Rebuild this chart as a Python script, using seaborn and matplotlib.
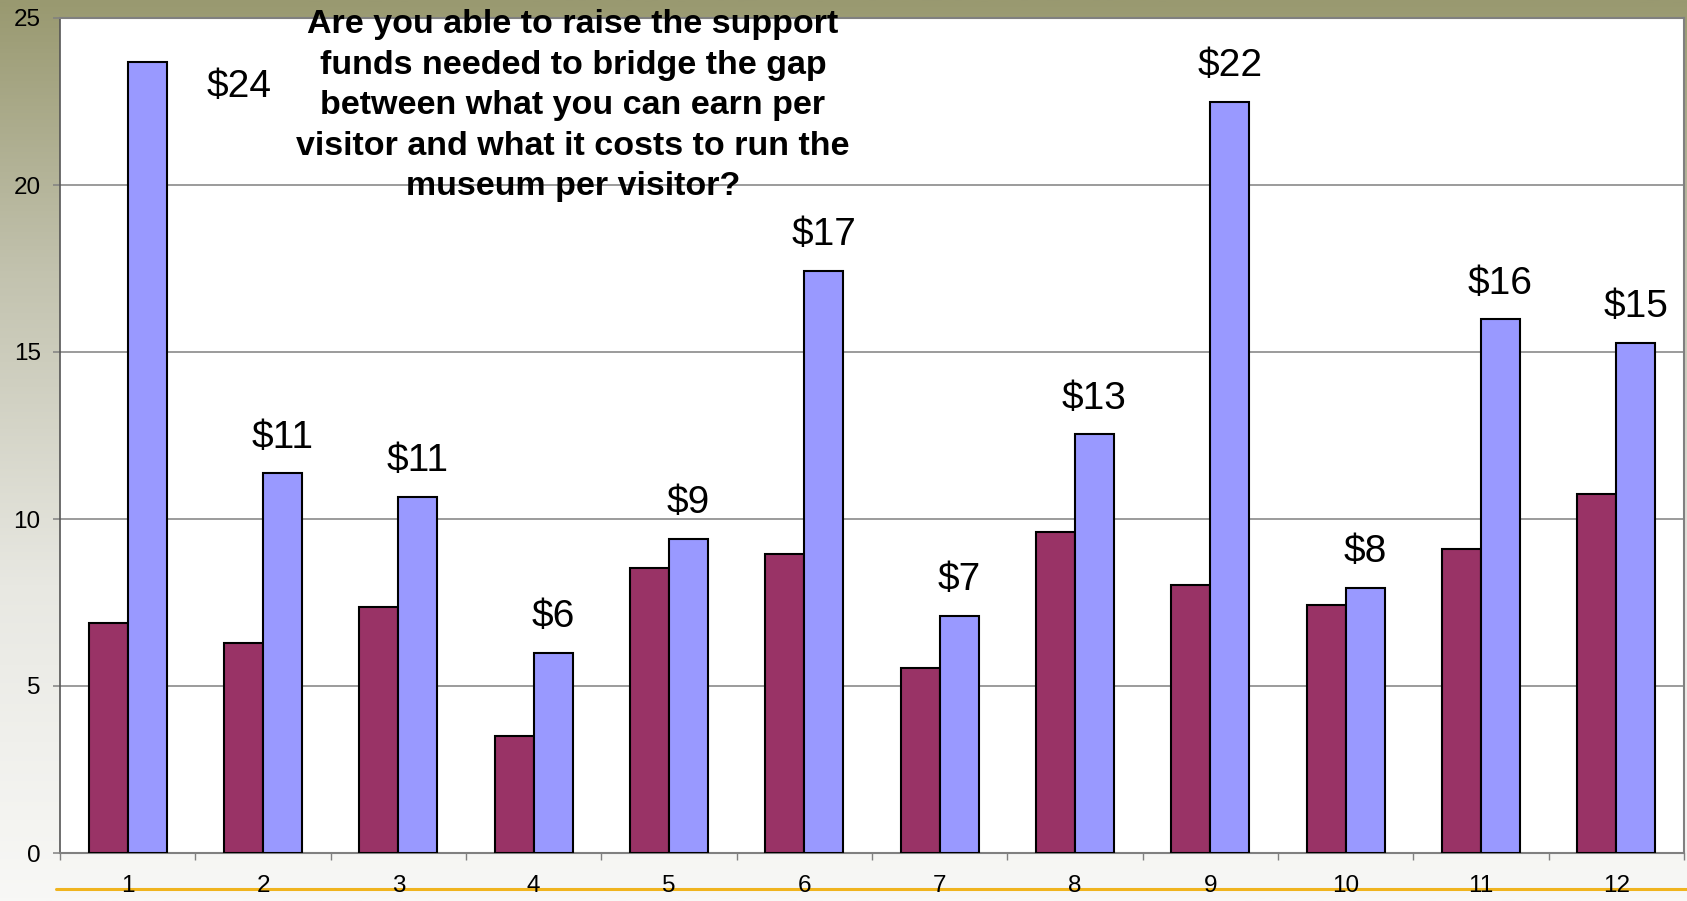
import numpy as np
import pandas as pd
import matplotlib
matplotlib.use("Agg")
import matplotlib.pyplot as plt
from matplotlib.colors import LinearSegmentedColormap
from matplotlib.lines import Line2D
from matplotlib.ticker import FixedLocator
import seaborn as sns

# Per-visitor figures for twelve museums
categories = [str(i) for i in range(1, 13)]
earned_per_visitor = [6.88, 6.30, 7.38, 3.51, 8.54, 8.96, 5.54, 9.60, 8.02, 7.44, 9.09, 10.76]
cost_per_visitor = [23.68, 11.37, 10.66, 5.99, 9.41, 17.43, 7.09, 12.53, 22.49, 7.93, 15.98, 15.27]
series_names = ["Earned per visitor", "Cost per visitor"]
series_colors = ["#993366", "#9999FF"]
yticks = [0, 5, 10, 15, 20, 25]
question = ("Are you able to raise the support\n"
            "funds needed to bridge the gap\n"
            "between what you can earn per\n"
            "visitor and what it costs to run the\n"
            "museum per visitor?")

df = pd.DataFrame({
    "museum": categories * 2,
    "series": [series_names[0]] * len(categories) + [series_names[1]] * len(categories),
    "value": earned_per_visitor + cost_per_visitor,
})

sns.set_theme(style="white")
plt.rcParams["font.family"] = ["Liberation Sans", "DejaVu Sans"]
plt.rcParams["xtick.labelsize"] = 17.5
plt.rcParams["ytick.labelsize"] = 17.5

W, H = 1687, 901
fig = plt.figure(figsize=(W / 100, H / 100), dpi=100)

# Slide-style backdrop: olive at the top fading to near white
bg = fig.add_axes([0, 0, 1, 1], zorder=-10)
cmap = LinearSegmentedColormap.from_list(
    "backdrop",
    [(0.0, "#999970"), (0.3, "#c2c2ae"), (0.65, "#e8e8e2"), (1.0, "#f8f8f6")],
)
grad = np.linspace(0, 1, 512).reshape(-1, 1)
bg.imshow(grad, aspect="auto", cmap=cmap, extent=[0, 1, 0, 1], origin="upper")
bg.set_axis_off()

# Gold rule across the bottom
fig.add_artist(Line2D([56 / W, 1.0], [(H - 889) / H] * 2, color="#F0B41E", lw=2.2,
                      transform=fig.transFigure, zorder=-5))

ax = fig.add_axes([60 / W, (H - 853) / H, 1624 / W, 835 / H])
ax.set_facecolor("white")

sns.barplot(data=df, x="museum", y="value", hue="series", order=categories,
            hue_order=series_names, palette=series_colors, saturation=1,
            width=0.577, gap=0, edgecolor="black", linewidth=1.5,
            legend=False, ax=ax, zorder=3)

ax.set_xlim(-0.5, len(categories) - 0.5)
ax.set_ylim(yticks[0], yticks[-1])
ax.set_yticks(yticks)
ax.set_xlabel("")
ax.set_ylabel("")

ax.yaxis.grid(True, color="#808080", lw=1.1)
ax.xaxis.grid(False)
ax.set_axisbelow(True)

ax.xaxis.set_minor_locator(FixedLocator(np.arange(-0.5, len(categories), 1)))
ax.tick_params(axis="x", which="major", bottom=True, length=0, pad=16,
               labelsize=17.5, labelcolor="black")
ax.tick_params(axis="x", which="minor", bottom=True, length=5, width=1,
               color="#808080", direction="out")
ax.tick_params(axis="y", which="major", left=True, length=5, width=1.1,
               color="#808080", direction="out", pad=8.9, labelsize=17.5,
               labelcolor="black")

for name, sp in ax.spines.items():
    sp.set_visible(True)
    sp.set_color("#808080")
    sp.set_linewidth(1.5)
ax.spines["left"].set_color("#555555")
ax.spines["left"].set_linewidth(1.2)

# Dollar labels above the cost bars
for bar, v in zip(ax.containers[1], cost_per_visitor):
    cx = bar.get_x() + bar.get_width() / 2
    if v > yticks[-1] - 2:
        # no headroom above the tallest bar: set the label beside it
        ax.annotate(f"${v:.0f}", xy=(cx, v), xytext=(66, -25),
                    textcoords="offset points", ha="center", va="baseline",
                    fontsize=28, color="black")
    else:
        ax.annotate(f"${v:.0f}", xy=(cx, v), xytext=(0, 18.5),
                    textcoords="offset points", ha="center", va="baseline",
                    fontsize=28, color="black")

fig.text(573 / W, 1 - 9 / H, question, ha="center", va="top",
         fontsize=24.5, fontweight="bold", linespacing=1.4, color="black")

fig.savefig("out.png", dpi=100)
